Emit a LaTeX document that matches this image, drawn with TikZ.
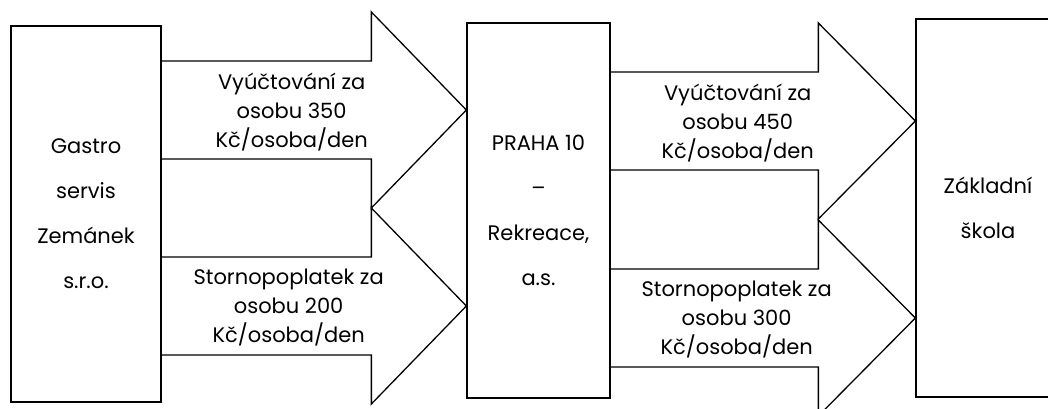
\documentclass[tikz,border=0pt]{standalone}
\usepackage{fontspec}
\setmainfont{Poppins}
\usepackage{tikz}
\usetikzlibrary{calc}
\tikzstyle{box} = [draw, line width=1.3pt,
	align=center,
	font=\fontsize{21}{45}\selectfont]
\tikzstyle{flow} = [draw, line width=1.3pt, line join=miter]
\tikzstyle{flowtext} = [align=center, font=\fontsize{21}{29}\selectfont]
% block arrow from #1 to #2 along row #3, head length #4
\newcommand{\drawflow}[4]{\draw[flow] ($(#1.east |- #3)+(0,-49)$)
	-- ($(#2.west |- #3)+(-#4,-49)$) -- ($(#2.west |- #3)+(-#4,-98)$)
	-- (#2.west |- #3)
	-- ($(#2.west |- #3)+(-#4,98)$) -- ($(#2.west |- #3)+(-#4,49)$)
	-- ($(#1.east |- #3)+(0,49)$)}

\begin{document}
\begin{tikzpicture}[x=1pt, y=-1pt]
	\useasboundingbox (0,0) rectangle (1048,409);
	\clip (0,0) rectangle (1048,409);
	
	\node (gastro) [box, minimum width=150, minimum height=376] at (86,214) {Gastro\\servis\\Zemánek\\s.r.o.};
	\node (praha) [box, minimum width=143, minimum height=375] at (538.5,210.5) {PRAHA 10\\–\\Rekreace,\\a.s.};
	\node (skola) [box, minimum width=144, minimum height=378] at (988,208) {Základní\\škola};
	
	\coordinate (r1) at (0,110);
	\coordinate (r2) at (0,306);
	\coordinate (r3) at (0,121);
	\coordinate (r4) at (0,318);
	
	\drawflow{gastro}{praha}{r1}{95};
	\drawflow{gastro}{praha}{r2}{95};
	\drawflow{praha}{skola}{r3}{97};
	\drawflow{praha}{skola}{r4}{97};
	
	\node (t1) [flowtext] at ($(gastro.east |- r1)+(130,2)$) {Vyúčtování za\\osobu 350\\Kč/osoba/den};
	\node (t2) [flowtext] at ($(gastro.east |- r2)+(127,2)$) {Stornopoplatek za\\osobu 200\\Kč/osoba/den};
	\node (t3) [flowtext] at ($(praha.east |- r3)+(127,2)$) {Vyúčtování za\\osobu 450\\Kč/osoba/den};
	\node (t4) [flowtext] at ($(praha.east |- r4)+(126,2)$) {Stornopoplatek za\\osobu 300\\Kč/osoba/den};
\end{tikzpicture}
\end{document}
